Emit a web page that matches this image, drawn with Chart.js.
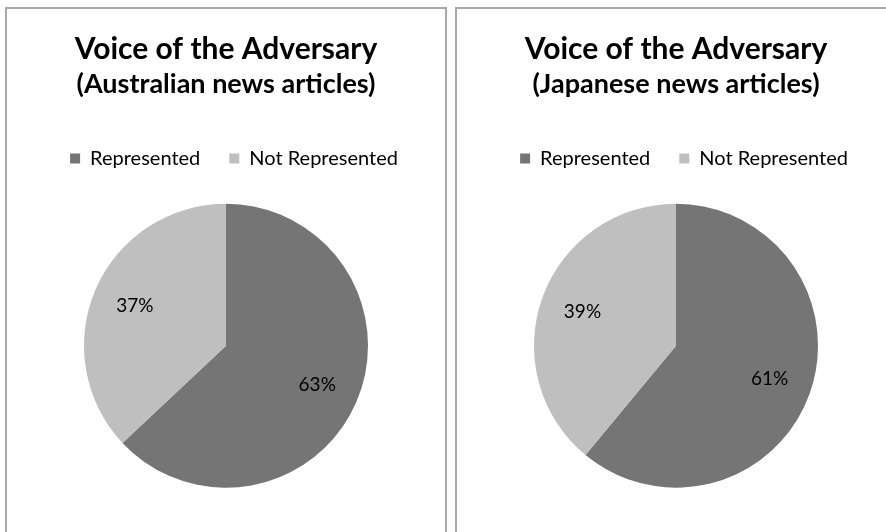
<!DOCTYPE html>
<html>
<head>
<meta charset="utf-8">
<script src="https://cdn.jsdelivr.net/npm/chart.js@4/dist/chart.umd.min.js"></script>
<style>
  html, body { margin: 0; padding: 0; background: #fff; width: 886px; height: 532px; overflow: hidden; }
  .panel { position: absolute; top: 7px; width: 442px; height: 600px; box-sizing: border-box;
           border: 2px solid #a9a9a9; background: #fff; }
  #panelA { left: 5px; }
  #panelB { left: 455px; }
  canvas { display: block; }
</style>
</head>
<body>
<div class="panel" id="panelA"><canvas id="chartA" width="438" height="523"></canvas></div>
<div class="panel" id="panelB"><canvas id="chartB" width="438" height="523"></canvas></div>
<script>
// Share of articles in which the adversary's voice is represented
const categories = ['Represented', 'Not Represented'];
const australianShares = [63, 37];
const japaneseShares = [61, 39];
const mainTitle = 'Voice of the Adversary';
const australianSubtitle = '(Australian news articles)';
const japaneseSubtitle = '(Japanese news articles)';

const sliceColors = ['#757575', '#bfbfbf'];
const FONT = 'Lato, "Open Sans", sans-serif';

// Percentage labels placed along each slice's bisector
const sliceLabels = {
  id: 'sliceLabels',
  afterDatasetsDraw(chart, args, opts) {
    const ctx = chart.ctx;
    const meta = chart.getDatasetMeta(0);
    const values = chart.data.datasets[0].data;
    ctx.save();
    ctx.font = opts.font;
    ctx.fillStyle = opts.color;
    ctx.textAlign = 'center';
    ctx.textBaseline = 'middle';
    meta.data.forEach((arc, i) => {
      const p = arc.getProps(['x', 'y', 'startAngle', 'endAngle', 'outerRadius'], true);
      const mid = (p.startAngle + p.endAngle) / 2;
      const r = p.outerRadius * opts.offset;
      ctx.fillText(values[i] + '%', p.x + Math.cos(mid) * r, p.y + Math.sin(mid) * r);
    });
    ctx.restore();
  }
};

// Nudge the legend row sideways
const legendShift = {
  id: 'legendShift',
  afterLayout(chart, args, opts) {
    const lg = chart.legend;
    if (lg) { lg.left += opts.dx; lg.right += opts.dx; }
  }
};

function makePie(canvasId, subtitle, shares) {
  return new Chart(document.getElementById(canvasId), {
    type: 'pie',
    data: {
      labels: categories,
      datasets: [{
        data: shares,
        backgroundColor: sliceColors,
        borderWidth: 0,
        radius: 142
      }]
    },
    options: {
      responsive: false,
      devicePixelRatio: 1,
      animation: false,
      layout: { padding: { top: 0, bottom: 19, left: 0, right: 0 } },
      plugins: {
        title: {
          display: true,
          text: mainTitle,
          color: '#000',
          font: { family: FONT, size: 30, weight: 'bold', lineHeight: 1.2 },
          padding: { top: 22, bottom: 0 }
        },
        subtitle: {
          display: true,
          text: subtitle,
          color: '#000',
          font: { family: FONT, size: 27, weight: 'bold', lineHeight: 1.2 },
          padding: { top: 1, bottom: 19 }
        },
        legend: {
          position: 'top',
          labels: {
            color: '#000',
            font: { family: FONT, size: 20 },
            boxWidth: 10,
            boxHeight: 10,
            padding: 29
          }
        },
        tooltip: { enabled: false },
        sliceLabels: { font: '19px ' + FONT, color: '#000', offset: 0.7 },
        legendShift: { dx: 8 }
      }
    },
    plugins: [sliceLabels, legendShift]
  });
}

makePie('chartA', australianSubtitle, australianShares);
makePie('chartB', japaneseSubtitle, japaneseShares);
</script>
</body>
</html>
